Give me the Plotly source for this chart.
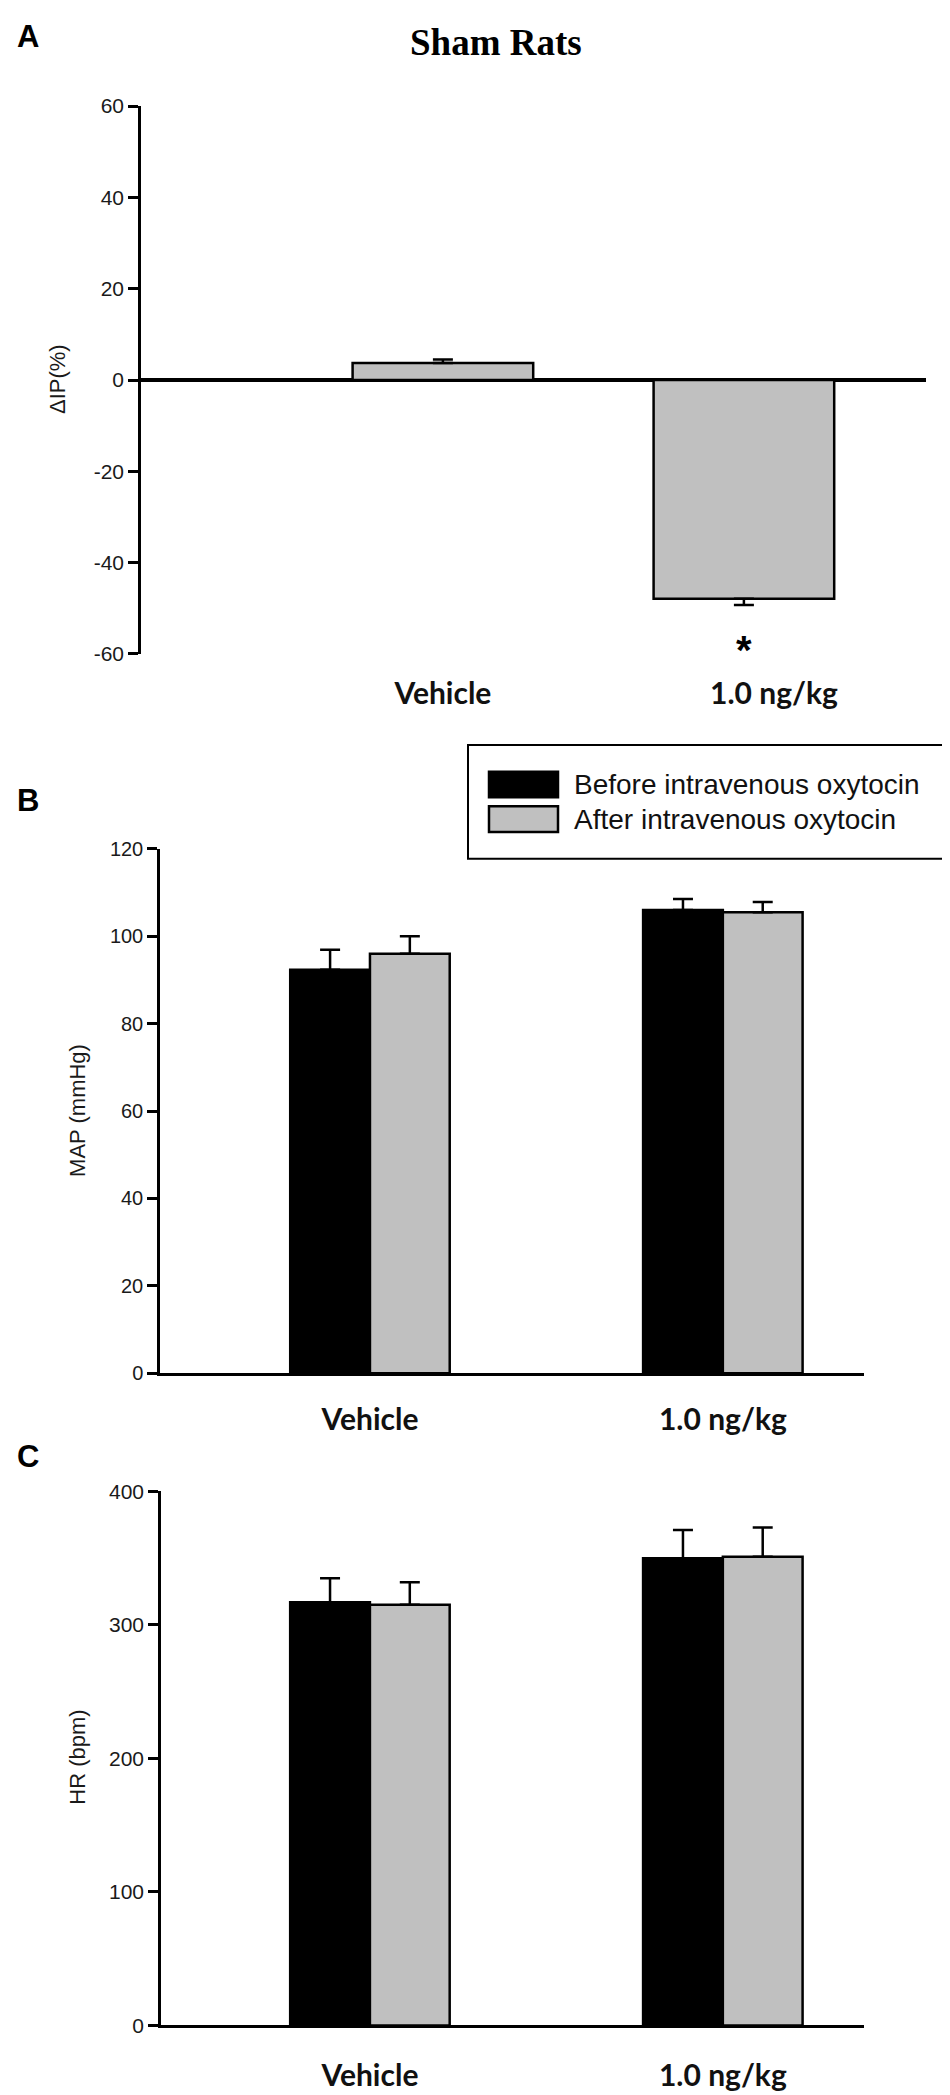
import plotly.graph_objects as go

# ---------------- data ----------------
categories = ["Vehicle", "1.0 ng/kg"]

# Panel A: change in intravesical pressure (%)
delta_ip = [3.7, -47.9]
delta_ip_err_up = [0.8, 0.0]
delta_ip_err_down = [0.0, 1.4]
ip_ticks = [-60, -40, -20, 0, 20, 40, 60]

series_names = ["Before intravenous oxytocin", "After intravenous oxytocin"]

# Panel B: MAP (mmHg)
map_before = [92.3, 106.0]
map_before_err = [4.6, 2.5]
map_after = [96.0, 105.5]
map_after_err = [4.0, 2.3]
map_ticks = [0, 20, 40, 60, 80, 100, 120]

# Panel C: HR (bpm)
hr_before = [317, 350]
hr_before_err = [18, 21]
hr_after = [315, 351]
hr_after_err = [17, 22]
hr_ticks = [0, 100, 200, 300, 400]

# ---------------- helpers ----------------
W, H = 950, 2095


def px(x):
    return x / W


def py(y):
    return 1 - y / H


BLACK = "#000000"
GRAY = "#C0C0C0"
TICKCOL = "#1a1a1a"
zeros = [0] * len(categories)
pos = list(range(len(categories)))

fig = go.Figure()

# Panel A bars
fig.add_trace(go.Bar(
    x=pos, y=delta_ip, width=0.6, offset=-0.3,
    marker=dict(color=GRAY, line=dict(color=BLACK, width=2.5)),
    error_y=dict(type="data", symmetric=False, array=delta_ip_err_up,
                 arrayminus=delta_ip_err_down, color=BLACK, thickness=2.5, width=10),
    xaxis="x", yaxis="y", showlegend=False, hoverinfo="skip"))

bw = 0.226
# Panel B bars
for vals, errs, col, name, off in [
    (map_before, map_before_err, BLACK, series_names[0], -bw),
    (map_after, map_after_err, GRAY, series_names[1], 0.0),
]:
    fig.add_trace(go.Bar(
        x=pos, y=vals, width=bw, offset=off, name=name,
        marker=dict(color=col, line=dict(color=BLACK, width=2.5)),
        error_y=dict(type="data", symmetric=False, array=errs, arrayminus=zeros,
                     color=BLACK, thickness=2.5, width=10),
        xaxis="x2", yaxis="y2", showlegend=False, hoverinfo="skip"))

# Panel C bars
for vals, errs, col, name, off in [
    (hr_before, hr_before_err, BLACK, series_names[0], -bw),
    (hr_after, hr_after_err, GRAY, series_names[1], 0.0),
]:
    fig.add_trace(go.Bar(
        x=pos, y=vals, width=bw, offset=off, name=name,
        marker=dict(color=col, line=dict(color=BLACK, width=2.5)),
        error_y=dict(type="data", symmetric=False, array=errs, arrayminus=zeros,
                     color=BLACK, thickness=2.5, width=10),
        xaxis="x3", yaxis="y3", showlegend=False, hoverinfo="skip"))

catfont = dict(family="Lato, 'Open Sans', sans-serif", size=30, color="#111111", weight="bold")


def yax(domain, rng, ticks, size, anchor, zeroline=False):
    return dict(
        domain=domain, range=rng, tickvals=ticks, ticktext=[str(t) for t in ticks],
        anchor=anchor,
        showline=True, linecolor=BLACK, linewidth=2.5,
        ticks="outside", ticklen=10, tickwidth=2.5, tickcolor=BLACK,
        tickfont=dict(family="Liberation Sans, Arial, sans-serif", size=size, color=TICKCOL),
        showgrid=False, zeroline=zeroline, zerolinecolor=BLACK, zerolinewidth=3.5,
        fixedrange=True)


def xax(domain, rng, anchor, showline, standoff, tickvals):
    return dict(
        domain=domain, range=rng, anchor=anchor,
        tickvals=tickvals, ticktext=categories,
        showline=showline, linecolor=BLACK, linewidth=2.5,
        ticks="outside", ticklen=standoff, tickcolor="rgba(0,0,0,0)",
        tickfont=catfont, showgrid=False, zeroline=False, fixedrange=True)


# label of the dose group in panel A sits slightly right of its bar in the original
panelA_label_pos = [pos[0], pos[1] + 0.1]

fig.update_layout(
    width=W, height=H, margin=dict(l=0, r=0, t=0, b=0),
    paper_bgcolor="white", plot_bgcolor="white",
    barmode="overlay", showlegend=False,
    xaxis=xax([px(133), px(918)], [-1.003, 1.605], "y", False, 13, panelA_label_pos),
    yaxis=yax([py(641), py(87)], [-60, 60], ip_ticks, 21, "x", zeroline=True),
    xaxis2=xax([px(152), px(856)], [-0.595, 1.40], "y2", True, 18, pos),
    yaxis2=yax([py(1368.3), py(838)], [0, 120], map_ticks, 20, "x2"),
    xaxis3=xax([px(153), px(856)], [-0.592, 1.40], "y3", True, 22, pos),
    yaxis3=yax([py(2027.7), py(1487.7)], [0, 400], hr_ticks, 21, "x3"),
)

annotations = []
# panel letters
for letter, yy in [("A", 17), ("B", 789), ("C", 1452)]:
    annotations.append(dict(text=letter, x=px(20), y=py(yy), xref="paper", yref="paper",
                            showarrow=False, xanchor="center", yanchor="middle",
                            font=dict(family="Liberation Sans, Arial", size=31, color=BLACK, weight="bold")))
# title
annotations.append(dict(text="Sham Rats", x=px(488), y=py(23), xref="paper", yref="paper",
                        showarrow=False, xanchor="center", yanchor="middle",
                        font=dict(family="Liberation Serif, 'Times New Roman', serif", size=37,
                                  color=BLACK, weight="bold")))
# y-axis titles
for txt, xx, yy in [("ΔIP(%)", 49, 363), ("MAP (mmHg)", 70, 1103), ("HR (bpm)", 70, 1757)]:
    annotations.append(dict(text=txt, x=px(xx), y=py(yy), xref="paper", yref="paper",
                            showarrow=False, textangle=-90, xanchor="center", yanchor="middle",
                            font=dict(family="Liberation Sans, Arial", size=22, color=TICKCOL)))
# significance asterisk
annotations.append(dict(text="*", x=pos[1], y=delta_ip[1] - delta_ip_err_down[1],
                        xref="x", yref="y", showarrow=False, yanchor="middle", yshift=-45,
                        font=dict(family="Liberation Sans, Arial", size=40, color=BLACK, weight="bold")))

# legend (drawn manually: box, swatches, labels)
legend_fills = [BLACK, GRAY]
shapes = [dict(type="rect", xref="paper", yref="paper",
               x0=px(460), x1=px(946), y0=py(848), y1=py(733),
               line=dict(color=BLACK, width=2), fillcolor="white", layer="below")]
for i, (name, fill) in enumerate(zip(series_names, legend_fills)):
    top = 760 + i * 35
    shapes.append(dict(type="rect", xref="paper", yref="paper",
                       x0=px(481), x1=px(550), y0=py(top + 26), y1=py(top),
                       line=dict(color=BLACK, width=2.5), fillcolor=fill))
    annotations.append(dict(text=name, x=px(564), y=py(top + 13), xref="paper", yref="paper",
                            showarrow=False, xanchor="left", yanchor="middle",
                            font=dict(family="Liberation Sans, Arial", size=28, color="#111111")))

fig.update_layout(annotations=annotations, shapes=shapes)

fig.write_html("out.html")
